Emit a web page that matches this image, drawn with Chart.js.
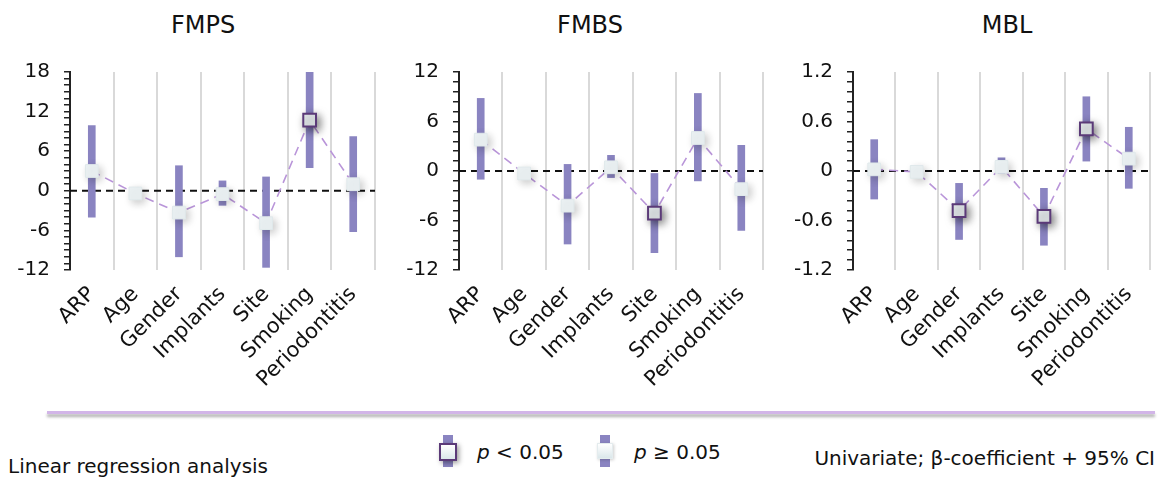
<!DOCTYPE html>
<html>
<head>
<meta charset="utf-8">
<script src="https://cdn.jsdelivr.net/npm/chart.js@4.4.1/dist/chart.umd.min.js"></script>
<style>
  body { margin: 0; background: #fff; font-family: 'DejaVu Sans', sans-serif; color: #111; }
  #wrap { position: relative; width: 1161px; height: 478px; overflow: hidden; }
  .panel { position: absolute; top: 0; }
  .title { position: absolute; top: 12px; font-size: 24px; line-height: 26px; transform: translateX(-50%); white-space: nowrap; }
  .sep { position: absolute; left: 47px; top: 411px; width: 1108px; height: 3px; background: #d2b5e8; box-shadow: 0 3px 3px rgba(0,0,0,0.32); }
  .note { position: absolute; font-size: 20px; line-height: 22px; white-space: nowrap; }
  .lbar { position: absolute; width: 10px; height: 32px; top: 435px; background: #8a84c1; }
  .lsq { position: absolute; top: 443px; width: 14px; height: 14px; background: linear-gradient(#ffffff, #dbe7ea); }
  .lsq.sig { border: 2px solid #5b3a78; box-shadow: 2px 2px 5px rgba(0,0,0,0.4); }
  .lsq.ns { border: 1px solid #e4ecee; box-shadow: 1px 1px 3px rgba(0,0,0,0.2); }
  .ltext { position: absolute; top: 440px; font-size: 20px; line-height: 24px; white-space: nowrap; }
</style>
</head>
<body>
<div id="wrap">
  <div class="title" style="left:203px">FMPS</div>
  <div class="title" style="left:590px">FMBS</div>
  <div class="title" style="left:1007px">MBL</div>
  <div class="panel" style="left:0px"><canvas id="c1" width="390" height="400"></canvas></div>
  <div class="panel" style="left:390px"><canvas id="c2" width="390" height="400"></canvas></div>
  <div class="panel" style="left:780px"><canvas id="c3" width="381" height="400"></canvas></div>

  <div class="sep"></div>

  <div class="lbar" style="left:443px"></div>
  <div class="lsq sig" style="left:439px"></div>
  <div class="ltext" style="left:477px"><i>p</i> &lt; 0.05</div>
  <div class="lbar" style="left:600px"></div>
  <div class="lsq ns" style="left:597px"></div>
  <div class="ltext" style="left:634px"><i>p</i> ≥ 0.05</div>

  <div class="note" style="left:8px; top:455px">Linear regression analysis</div>
  <div class="note" style="right:6px; top:447px">Univariate; β-coefficient + 95% CI</div>
</div>

<script>
const categories = ['ARP', 'Age', 'Gender', 'Implants', 'Site', 'Smoking', 'Periodontitis'];

// FMPS
const fmpsBeta = [3.0, -0.4, -3.3, -0.5, -4.9, 10.7, 1.0];
const fmpsLow  = [-4.0, -0.6, -10.0, -2.2, -11.6, 3.5, -6.2];
const fmpsHigh = [9.9, -0.2, 3.8, 1.5, 2.1, 18.0, 8.2];
const fmpsSig  = [false, false, false, false, false, true, false];

// FMBS
const fmbsBeta = [3.8, -0.3, -4.2, 0.45, -5.1, 4.0, -2.2];
const fmbsLow  = [-1.0, -0.4, -8.85, -0.8, -9.9, -1.2, -7.2];
const fmbsHigh = [8.8, -0.2, 0.8, 1.9, -0.3, 9.4, 3.1];
const fmbsSig  = [false, false, false, false, true, false, false];

// MBL
const mblBeta = [0.02, -0.01, -0.48, 0.05, -0.55, 0.51, 0.15];
const mblLow  = [-0.34, -0.02, -0.83, -0.03, -0.9, 0.12, -0.21];
const mblHigh = [0.38, 0.0, -0.15, 0.16, -0.21, 0.9, 0.53];
const mblSig  = [false, false, true, false, true, true, false];

const FONT = "'DejaVu Sans', sans-serif";

// drop shadow for the marker datasets
const shadowPlugin = {
  id: 'ptShadow',
  beforeDatasetDraw(chart, args) {
    const ds = chart.data.datasets[args.index];
    if (!ds.shadow) return;
    const c = chart.ctx;
    c.save();
    c.shadowColor = ds.shadow;
    c.shadowBlur = 8;
    c.shadowOffsetX = 3;
    c.shadowOffsetY = 3;
  },
  afterDatasetDraw(chart, args) {
    if (chart.data.datasets[args.index].shadow) chart.ctx.restore();
  }
};

// dashed zero reference line
const zeroLine = {
  id: 'zeroLine',
  beforeDatasetsDraw(chart) {
    const y = chart.scales.y.getPixelForValue(0);
    const a = chart.chartArea;
    const c = chart.ctx;
    c.save();
    c.strokeStyle = '#111';
    c.lineWidth = 2;
    c.setLineDash([7, 5]);
    c.beginPath();
    c.moveTo(a.left, y);
    c.lineTo(a.right, y);
    c.stroke();
    c.restore();
  }
};

function makeChart(id, beta, low, high, sig, yMin, yMax, step, major, yWidth, padRight) {
  const ci = low.map((l, i) => [l, high[i]]);
  const sigPts = beta.map((v, i) => sig[i] ? v : null);
  const nsPts = beta.map((v, i) => sig[i] ? null : v);

  new Chart(document.getElementById(id), {
    type: 'bar',
    data: {
      labels: categories,
      datasets: [
        {
          type: 'bar',
          data: ci,
          backgroundColor: '#8a84c1',
          barThickness: 7,
          order: 4
        },
        {
          type: 'line',
          data: beta,
          borderColor: '#b995d9',
          borderWidth: 1.6,
          borderDash: [9, 6],
          pointRadius: 0,
          fill: false,
          order: 3
        },
        {
          type: 'line',
          data: nsPts,
          showLine: false,
          pointStyle: 'rect',
          pointRadius: 9,
          pointBackgroundColor: '#edf3f5',
          pointBorderColor: '#e0e9eb',
          pointBorderWidth: 1,
          shadow: 'rgba(0,0,0,0.22)',
          order: 2
        },
        {
          type: 'line',
          data: sigPts,
          showLine: false,
          pointStyle: 'rect',
          pointRadius: 9,
          pointBackgroundColor: '#edf3f5',
          pointBorderColor: '#5b3a78',
          pointBorderWidth: 2,
          shadow: 'rgba(0,0,0,0.5)',
          order: 1
        }
      ]
    },
    options: {
      responsive: false,
      animation: false,
      layout: { padding: { top: 72, right: padRight, left: 0, bottom: 0 } },
      plugins: { legend: { display: false }, tooltip: { enabled: false } },
      scales: {
        x: {
          grid: { color: '#d9d9d9', lineWidth: 2, drawTicks: false, offset: true },
          border: { display: false },
          ticks: {
            color: '#111',
            font: { family: FONT, size: 21 },
            minRotation: 45,
            maxRotation: 45,
            autoSkip: false,
            padding: 12
          },
          afterFit: s => { s.height = 130; }
        },
        y: {
          min: yMin,
          max: yMax,
          grid: { drawOnChartArea: false, drawTicks: true, tickLength: 6, color: '#222', lineWidth: 1.5 },
          border: { display: true, color: '#222', width: 2 },
          ticks: {
            stepSize: step,
            autoSkip: false,
            color: '#111',
            padding: 14,
            font: { family: FONT, size: 20 },
            callback: v => {
              const r = v / major;
              if (Math.abs(r - Math.round(r)) > 1e-6) return '';
              return String(Math.round(v * 10) / 10);
            }
          },
          afterFit: s => { s.width = yWidth; }
        }
      }
    },
    plugins: [zeroLine, shadowPlugin]
  });
}

makeChart('c1', fmpsBeta, fmpsLow, fmpsHigh, fmpsSig, -12, 18, 1, 6, 70, 15);
makeChart('c2', fmbsBeta, fmbsLow, fmbsHigh, fmbsSig, -12, 12, 1.2, 6, 69, 17);
makeChart('c3', mblBeta, mblLow, mblHigh, mblSig, -1.2, 1.2, 0.12, 0.6, 73, 9);
</script>
</body>
</html>
